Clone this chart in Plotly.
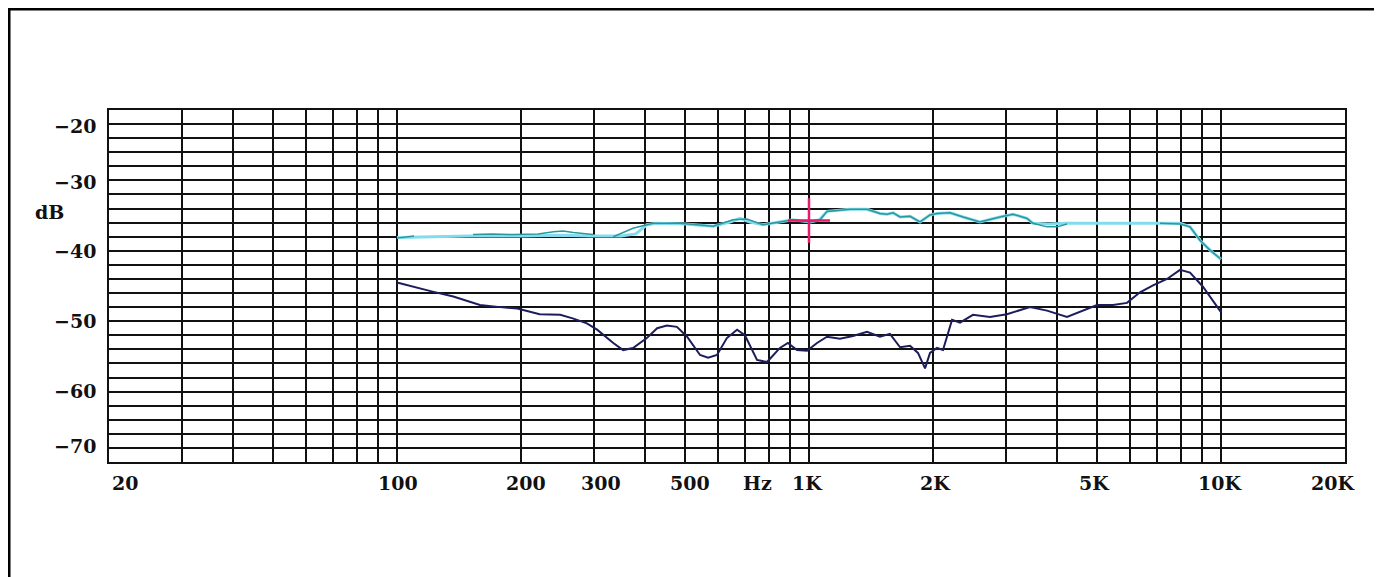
import numpy as np
import plotly.graph_objects as go

# ---------------- data ----------------
# dark navy curve
navy_freq = [100, 109, 122, 137, 159, 178, 196, 222, 249, 267, 289, 306, 335, 354, 374,
             404, 428, 452, 478, 506, 544, 569, 598, 632, 669, 699, 748, 791, 850, 889,
             935, 989, 1046, 1106, 1189, 1279, 1383, 1487, 1572, 1664, 1759, 1839, 1913,
             1967, 2045, 2115, 2225, 2326, 2500, 2749, 3023, 3439, 3782, 4229, 4624, 5001,
             5469, 5914, 6360, 6839, 7396, 7954, 8412, 9041, 10000]
navy_db = [-44.5, -45.1, -45.8, -46.5, -47.7, -48.0, -48.2, -49.0, -49.1, -49.6, -50.3,
           -51.2, -53.1, -54.1, -53.8, -52.4, -51.0, -50.6, -50.8, -52.2, -54.8, -55.2,
           -54.8, -52.4, -51.2, -52.0, -55.5, -55.8, -53.8, -53.1, -54.1, -54.2, -53.1,
           -52.2, -52.5, -52.1, -51.5, -52.2, -51.8, -53.7, -53.5, -54.5, -56.7, -54.5,
           -53.8, -54.1, -49.8, -50.2, -49.1, -49.4, -49.0, -48.0, -48.5, -49.4, -48.5,
           -47.7, -47.7, -47.4, -45.9, -44.9, -44.0, -42.7, -43.1, -45.1, -48.7]

# light cyan curve
cyan_freq = [100, 120, 150, 200, 250, 300, 350, 380, 404, 428, 500, 585, 643, 680, 719,
             773, 850, 914, 1006, 1060, 1106, 1258, 1383, 1487, 1546, 1600, 1664, 1759,
             1860, 1967, 2045, 2200, 2366, 2600, 2908, 3128, 3382, 3498, 3800, 4229, 5000,
             6000, 7000, 7954, 8412, 8892, 9404, 10000]
cyan_db = [-38.1, -38.0, -37.9, -37.9, -37.8, -37.9, -37.9, -37.6, -36.3, -36.1, -36.2,
           -36.5, -35.9, -35.4, -35.9, -36.3, -35.9, -35.6, -35.9, -35.6, -34.4, -34.1,
           -34.1, -34.7, -34.8, -34.6, -35.2, -35.1, -35.9, -34.9, -34.7, -34.6, -35.2,
           -35.9, -35.2, -34.8, -35.4, -36.1, -36.2, -36.1, -36.1, -36.1, -36.0, -36.1,
           -36.6, -38.5, -39.9, -41.2]

# teal curve (visible only where it leaves the cyan one; None = hidden)
teal_freq = [100, 105, 110, None, 153, 170, 191, 199, 220, 240, 253, 268, 285, 299, None,
             335, 374, 418, 486, 585, 654, 707, 773, 850, 914, 1006, 1064, 1106, 1258,
             1383, 1487, 1546, 1600, 1664, 1759, 1860, 1967, 2045, 2200, 2366, 2600, 2908,
             3128, 3382, 3498, 3782, 4000, 4229, None, 7112, 7500, 7954, 8412, 8892, 9404,
             10000]
teal_db = [-38.2, -38.0, -37.9, None, -37.7, -37.6, -37.7, -37.7, -37.6, -37.3, -37.2,
           -37.4, -37.6, -37.7, None, -38.0, -36.8, -36.1, -36.1, -36.5, -35.6, -35.5,
           -36.3, -35.9, -35.6, -35.9, -35.6, -34.4, -34.1, -34.1, -34.7, -34.8, -34.6,
           -35.2, -35.1, -35.9, -34.9, -34.7, -34.6, -35.2, -35.9, -35.2, -34.8, -35.4,
           -36.1, -36.6, -36.6, -36.2, None, -36.1, -36.1, -36.2, -36.6, -38.5, -39.9,
           -41.2]

# cursor
cursor_freq = 1000
cursor_db = -35.7

# axes
grid_freqs = [20, 30, 40, 50, 60, 70, 80, 90,
              100, 200, 300, 400, 500, 600, 700, 800, 900,
              1000, 2000, 3000, 4000, 5000, 6000, 7000, 8000, 9000,
              10000, 20000]
x_label_freqs = [20, 100, 200, 300, 500, 1000, 2000, 5000, 10000, 20000]
x_label_texts = ["20", "100", "200", "300", "500", "1K", "2K", "5K", "10K", "20K"]
x_label_shift = [16, 1, 5, 7, 5, -1, 2, -2, -1, -12]
hz_freq = 748
y_label_vals = [-20, -30, -40, -50, -60, -70]
y_label_shift = [-16, -2, 0, 0, 1, 16]
y_min, y_max = -70, -20

FONT = "DejaVu Serif"
TXT = dict(family=FONT, size=19, color="#111111", weight="bold")

fig = go.Figure()
fig.add_trace(go.Scatter(x=navy_freq, y=navy_db, mode="lines",
                         line=dict(color="#1d1d5c", width=2), showlegend=False))
fig.add_trace(go.Scatter(x=cyan_freq, y=cyan_db, mode="lines",
                         line=dict(color="#82dced", width=3), showlegend=False))
fig.add_trace(go.Scatter(x=teal_freq, y=teal_db, mode="lines", connectgaps=False,
                         line=dict(color="#2a979f", width=1.5), showlegend=False))
fig.add_trace(go.Scatter(x=[cursor_freq], y=[cursor_db], mode="markers",
                         marker=dict(symbol="line-ns", size=32,
                                     line=dict(color="#e51a6b", width=2.5)),
                         showlegend=False))
fig.add_trace(go.Scatter(x=[cursor_freq], y=[cursor_db], mode="markers",
                         marker=dict(symbol="line-ew", size=30,
                                     line=dict(color="#e51a6b", width=2.5)),
                         showlegend=False))

annotations = []
for f, t, s in zip(x_label_freqs, x_label_texts, x_label_shift):
    annotations.append(dict(x=np.log10(f), y=y_min, xref="x", yref="y", text=t,
                            showarrow=False, xanchor="center", yanchor="middle",
                            xshift=s, yshift=-21, font=TXT))
annotations.append(dict(x=np.log10(hz_freq), y=y_min, xref="x", yref="y", text="Hz",
                        showarrow=False, xanchor="center", yanchor="middle",
                        yshift=-21, font=TXT))
for v, s in zip(y_label_vals, y_label_shift):
    annotations.append(dict(x=0, y=v, xref="paper", yref="y",
                            text="\u2212" + str(abs(v)), showarrow=False,
                            xanchor="right", yanchor="middle", xshift=-11, yshift=s,
                            font=TXT))
annotations.append(dict(x=0, y=-34.5, xref="paper", yref="y", text="dB",
                        showarrow=False, xanchor="center", yanchor="middle",
                        xshift=-60, font=TXT))

fig.update_layout(
    width=1374, height=569,
    margin=dict(l=101, r=37, t=102, b=115),
    paper_bgcolor="white", plot_bgcolor="white",
    xaxis=dict(type="log", range=[np.log10(20), np.log10(20000)],
               tickvals=grid_freqs, showticklabels=False, ticks="",
               showgrid=True, gridcolor="#111111", gridwidth=2,
               showline=True, linecolor="#111111", linewidth=2, mirror=True,
               zeroline=False, fixedrange=True),
    yaxis=dict(range=[y_min, y_max], tick0=y_min, dtick=2,
               showticklabels=False, ticks="",
               showgrid=True, gridcolor="#111111", gridwidth=2,
               showline=True, linecolor="#111111", linewidth=2, mirror=True,
               zeroline=False, fixedrange=True),
    annotations=annotations,
    shapes=[dict(type="rect", xref="paper", yref="paper",
                 x0=-0.0809, x1=1.0251, y0=-0.36, y1=1.2870,
                 line=dict(color="black", width=3), fillcolor="rgba(0,0,0,0)",
                 layer="above")],
)

fig.write_html("out.html")
